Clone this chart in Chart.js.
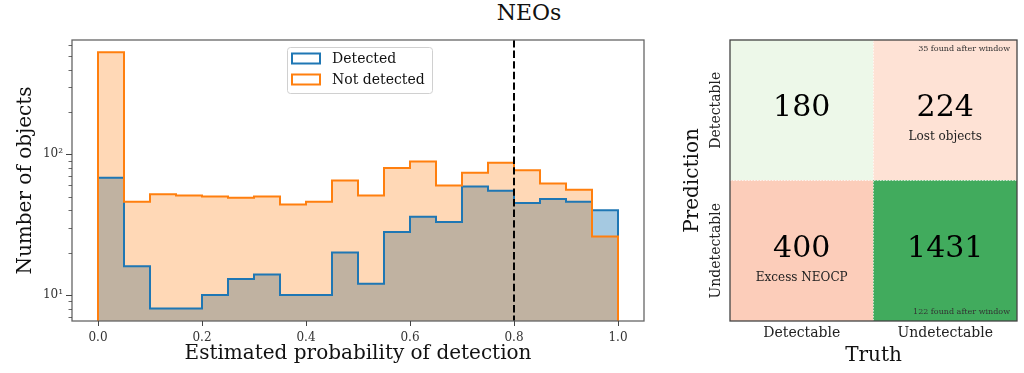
<!DOCTYPE html>
<html><head><meta charset="utf-8">
<script src="https://cdn.jsdelivr.net/npm/chart.js@4.4.0/dist/chart.umd.min.js"></script>
<style>
html,body{margin:0;padding:0;background:#fff;width:1024px;height:373px;overflow:hidden}
#title{position:absolute;top:2px;left:529px;transform:translateX(-50%);font:22px "DejaVu Serif";color:#111;line-height:22px;white-space:nowrap}
#c1{position:absolute;left:0;top:0}
#c2{position:absolute;left:660px;top:0}
</style></head><body>
<div id="title">NEOs</div>
<canvas id="c1" width="660" height="373"></canvas>
<canvas id="c2" width="364" height="373"></canvas>
<script>
// ---------------- data ----------------
const binEdges = [0.00,0.05,0.10,0.15,0.20,0.25,0.30,0.35,0.40,0.45,0.50,0.55,0.60,0.65,0.70,0.75,0.80,0.85,0.90,0.95,1.00];
const detectedCounts    = [68,16,8,8,10,13,14,10,10,20,12,28,36,33,59,55,45,48,46,40];
const notDetectedCounts = [531,46,52,51,50,49,50,44,46,65,51,80,89,60,74,87,77,62,56,26];
const seriesNames = ['Detected','Not detected'];
const xTickValues = [0.0,0.2,0.4,0.6,0.8,1.0];
const yTickValues = [7,8,9,10,20,30,40,50,60,70,80,90,100,200,300,400,500,600];
const yTickLabels = {10:'10\u00b9',100:'10\u00b2'};
const thresholdValue = 0.8;

const truthLabels = ['Detectable','Undetectable'];
const predictionLabels = ['Detectable','Undetectable'];
const matrixCounts = [[180,224],[400,1431]];           // rows = prediction, cols = truth
const cellNotes   = [['','Lost objects'],['Excess NEOCP','']];
const cornerNotes = [['','35 found after window'],['','122 found after window']];

// ---------------- styles ----------------
const SERIF = '"DejaVu Serif", "Liberation Serif", serif';
const BLUE = '#1f77b4', ORANGE = '#ff7f0e';
const cellColors = [['rgb(237,248,233)','rgb(254,226,213)'],['rgb(252,205,186)','rgb(65,171,93)']];
const FLOOR = 1; // below axis minimum, so steps drop to the bottom edge

function stepPoints(counts){
  const last = binEdges.length - 1;
  const pts = [{x: binEdges[0], y: FLOOR}];
  counts.forEach((c,i) => pts.push({x: binEdges[i], y: c}));
  pts.push({x: binEdges[last], y: counts[counts.length-1]});
  pts.push({x: binEdges[last], y: FLOOR});
  return pts;
}

const frameTicksPlugin = {
  id: 'frameTicks',
  afterDatasetsDraw(chart){
    const {ctx, chartArea: a, scales: {x, y}} = chart;
    ctx.save();
    // threshold dashed line
    const tx = x.getPixelForValue(thresholdValue);
    ctx.strokeStyle = '#000'; ctx.lineWidth = 2; ctx.setLineDash([7.4,3.2]);
    ctx.beginPath(); ctx.moveTo(tx, a.top); ctx.lineTo(tx, a.bottom); ctx.stroke();
    ctx.setLineDash([]);
    // frame
    ctx.strokeStyle = '#666'; ctx.lineWidth = 1.3;
    ctx.strokeRect(a.left, a.top, a.right - a.left, a.bottom - a.top);
    // ticks
    ctx.strokeStyle = '#444';
    xTickValues.forEach(v => {
      const px = Math.round(x.getPixelForValue(v)) + 0.5;
      ctx.lineWidth = 1; ctx.beginPath(); ctx.moveTo(px, a.bottom); ctx.lineTo(px, a.bottom + 5); ctx.stroke();
    });
    yTickValues.forEach(v => {
      const py = Math.round(y.getPixelForValue(v)) + 0.5;
      const major = yTickLabels[v] !== undefined;
      ctx.lineWidth = major ? 1 : 0.8;
      ctx.beginPath(); ctx.moveTo(a.left, py); ctx.lineTo(a.left - (major ? 6 : 3.5), py); ctx.stroke();
    });
    // legend
    const lx = 287, ly = 47, lw = 145, lh = 46;
    ctx.fillStyle = 'rgba(255,255,255,0.85)';
    ctx.strokeStyle = '#d0d0d0'; ctx.lineWidth = 1;
    ctx.beginPath(); ctx.roundRect(lx + 0.5, ly + 0.5, lw, lh, 3); ctx.fill(); ctx.stroke();
    const cols = [BLUE, ORANGE];
    ctx.font = '14px ' + SERIF; ctx.textBaseline = 'middle'; ctx.textAlign = 'left';
    seriesNames.forEach((n,i) => {
      const yy = ly + 11.5 + i * 21;
      ctx.fillStyle = '#fff'; ctx.strokeStyle = cols[i]; ctx.lineWidth = 2;
      ctx.fillRect(292, yy - 5, 28, 10); ctx.strokeRect(292, yy - 5, 28, 10);
      ctx.fillStyle = '#111'; ctx.fillText(n, 332, yy + 1);
    });
    ctx.restore();
  }
};

new Chart(document.getElementById('c1'), {
  type: 'line',
  data: {
    datasets: [
      { label: seriesNames[0], data: stepPoints(detectedCounts), order: 2,
        borderColor: BLUE, backgroundColor: 'rgba(31,119,180,0.4)', fill: 'start' },
      { label: seriesNames[1], data: stepPoints(notDetectedCounts), order: 1,
        borderColor: ORANGE, backgroundColor: 'rgba(255,127,14,0.3)', fill: 'start' }
    ]
  },
  options: {
    responsive: false, animation: false, devicePixelRatio: 1,
    layout: { padding: { top: 40, right: 16, left: 0, bottom: 0 } },
    elements: { line: { stepped: true, borderWidth: 2, tension: 0, borderJoinStyle: 'miter', borderCapStyle: 'butt' },
                point: { radius: 0, hoverRadius: 0 } },
    plugins: { legend: { display: false }, tooltip: { enabled: false }, filler: { drawTime: 'beforeDatasetsDraw' } },
    scales: {
      x: { type: 'linear', min: -0.05, max: 1.05,
           afterBuildTicks: s => { s.ticks = xTickValues.map(v => ({value: v})); },
           afterFit: s => { s.height = 52; },
           grid: { display: false, drawTicks: false }, border: { display: false },
           ticks: { autoSkip: false, maxRotation: 0, padding: 10, color: '#333', font: { family: SERIF, size: 12 },
                    callback: v => Number(v).toFixed(1) },
           title: { display: true, text: 'Estimated probability of detection', color: '#111',
                    font: { family: SERIF, size: 20 }, padding: { top: 0, bottom: 7 } } },
      y: { type: 'logarithmic', min: 6.53, max: 649,
           afterBuildTicks: s => { s.ticks = yTickValues.map(v => ({value: v})); },
           afterFit: s => { s.width = 72; },
           grid: { display: false, drawTicks: false }, border: { display: false },
           ticks: { autoSkip: false, padding: 9, color: '#333', font: { family: SERIF, size: 12 },
                    callback: v => yTickLabels[v] || '' },
           title: { display: true, text: 'Number of objects', color: '#111',
                    font: { family: SERIF, size: 20 }, padding: { top: 14, bottom: 0 } } }
    }
  },
  plugins: [frameTicksPlugin]
});

// ---------------- confusion matrix ----------------
const matrixPlugin = {
  id: 'matrixText',
  afterDatasetsDraw(chart){
    const {ctx, chartArea: a, scales: {x, y}} = chart;
    ctx.save();
    // dotted separators
    const mx = (x.getPixelForValue(0) + x.getPixelForValue(1)) / 2;
    const my = y.getPixelForValue(1);
    ctx.strokeStyle = 'rgba(255,255,255,0.7)'; ctx.lineWidth = 1; ctx.setLineDash([1.5,1.5]);
    ctx.beginPath(); ctx.moveTo(mx, a.top); ctx.lineTo(mx, a.bottom); ctx.moveTo(a.left, my); ctx.lineTo(a.right, my); ctx.stroke();
    ctx.setLineDash([]);
    ctx.textAlign = 'center'; ctx.textBaseline = 'middle';
    matrixCounts.forEach((row, r) => {
      const cy = y.getPixelForValue(matrixCounts.length - r - 0.5);
      row.forEach((v, c) => {
        const cx = x.getPixelForValue(c);
        ctx.fillStyle = '#000'; ctx.font = '30px ' + SERIF;
        ctx.fillText(String(v), cx, cy - 2);
        if (cellNotes[r][c]) { ctx.fillStyle = '#222'; ctx.font = '12px ' + SERIF; ctx.fillText(cellNotes[r][c], cx, cy + 27); }
      });
    });
    // corner notes
    ctx.font = '8px ' + SERIF; ctx.fillStyle = '#333'; ctx.textAlign = 'right';
    if (cornerNotes[0][1]) ctx.fillText(cornerNotes[0][1], a.right - 7, a.top + 9);
    if (cornerNotes[1][1]) ctx.fillText(cornerNotes[1][1], a.right - 7, a.bottom - 9.5);
    // rotated y tick labels
    ctx.font = '14px ' + SERIF; ctx.fillStyle = '#222'; ctx.textAlign = 'center';
    predictionLabels.forEach((lab, r) => {
      const cy = y.getPixelForValue(predictionLabels.length - r - 0.5);
      ctx.save(); ctx.translate(56.5, cy); ctx.rotate(-Math.PI/2); ctx.fillText(lab, 0, 0); ctx.restore();
    });
    // frame
    ctx.strokeStyle = '#444'; ctx.lineWidth = 1.3;
    ctx.strokeRect(a.left, a.top, a.right - a.left, a.bottom - a.top);
    ctx.restore();
  }
};

new Chart(document.getElementById('c2'), {
  type: 'bar',
  data: {
    labels: truthLabels,
    datasets: [
      { label: predictionLabels[1], data: truthLabels.map(() => 1), backgroundColor: cellColors[1] },
      { label: predictionLabels[0], data: truthLabels.map(() => 1), backgroundColor: cellColors[0] }
    ]
  },
  options: {
    responsive: false, animation: false, devicePixelRatio: 1,
    layout: { padding: { top: 40, right: 7, left: 0, bottom: 0 } },
    datasets: { bar: { barPercentage: 1, categoryPercentage: 1, borderWidth: 0 } },
    plugins: { legend: { display: false }, tooltip: { enabled: false } },
    scales: {
      x: { stacked: true, afterFit: s => { s.height = 52; },
           grid: { display: false, drawTicks: false }, border: { display: false },
           ticks: { padding: 4, color: '#222', font: { family: SERIF, size: 14 } },
           title: { display: true, text: 'Truth', color: '#111', font: { family: SERIF, size: 20 }, padding: { top: 0, bottom: 5 } } },
      y: { stacked: true, min: 0, max: 2, afterFit: s => { s.width = 70; },
           grid: { display: false, drawTicks: false }, border: { display: false },
           ticks: { display: false },
           title: { display: true, text: 'Prediction', color: '#111', font: { family: SERIF, size: 20 }, padding: { top: 21, bottom: 0 } } }
    }
  },
  plugins: [matrixPlugin]
});
</script>
</body></html>
